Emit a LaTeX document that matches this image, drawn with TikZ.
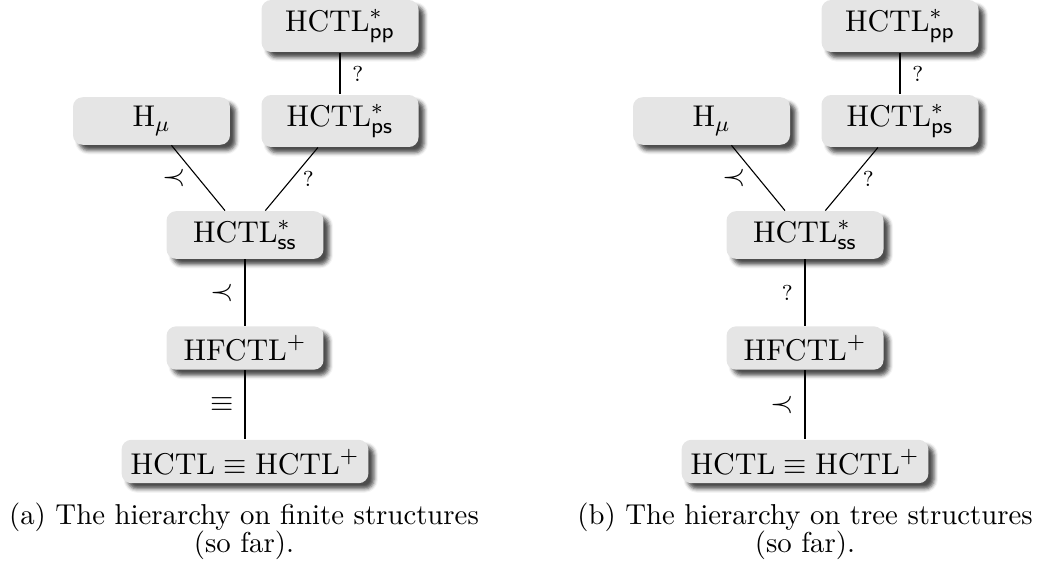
\documentclass[tikz,border=0pt]{standalone}
\usetikzlibrary{shadows.blur}
\begin{document}
\begin{tikzpicture}[x=0.365pt, y=-0.365pt,
  logic/.style={fill=black!10, rounded corners=3.5pt,
    font=\fontsize{11.1pt}{13pt}\selectfont,
    minimum width=57.3pt, minimum height=15.3pt, inner xsep=3.3pt,
    blur shadow={shadow xshift=2.1pt, shadow yshift=-2.1pt,
      shadow opacity=70, shadow blur radius=1.4pt}},
  link/.style={black, line width=0.4pt},
  rel/.style={inner sep=0pt, font=\fontsize{11.1pt}{13pt}\selectfont},
  unk/.style={inner sep=0pt, font=\fontsize{7.9pt}{9pt}\selectfont},
  capt/.style={anchor=base, font=\fontsize{10.5pt}{12pt}\selectfont}]
\useasboundingbox (0,0) rectangle (1047,572);

% (a) finite structures
\begin{scope}
  \node[logic] (app) at (340,26)    {$\mathrm{HCTL}^*_{\mathsf{pp}}$};
  \node[logic] (aps) at (340,121)   {$\mathrm{HCTL}^*_{\mathsf{ps}}$};
  \node[logic] (amu) at (151.5,121) {$\mathrm{H}_\mu$};
  \node[logic] (ass) at (245,235)   {$\mathrm{HCTL}^*_{\mathsf{ss}}$};
  \node[logic] (afc) at (245,348)   {$\mathrm{HFCTL}^+$};
  \node[logic] (acl) at (245,461.5) {$\mathrm{HCTL}\equiv\mathrm{HCTL}^+$};
  \draw[link] (app) -- node[unk, right=4.3pt] {?} (aps);
  \draw[link] (amu) -- node[rel, left=4.5pt] {$\prec$} (ass);
  \draw[link] (aps) -- node[unk, right=3.9pt] {?} (ass);
  \draw[link] (ass) -- node[rel, left=4pt] {$\prec$} (afc);
  \draw[link] (afc) -- node[rel, left=4pt] {$\equiv$} (acl);
  \node[capt] (acap1) at (244,524) {(a) The hierarchy on finite structures};
  \node[capt] (acap2) at (244,552) {(so far).};
\end{scope}

% (b) tree structures
\begin{scope}[xshift=560*0.365pt]
  \node[logic] (bpp) at (340,26)    {$\mathrm{HCTL}^*_{\mathsf{pp}}$};
  \node[logic] (bps) at (340,121)   {$\mathrm{HCTL}^*_{\mathsf{ps}}$};
  \node[logic] (bmu) at (151.5,121) {$\mathrm{H}_\mu$};
  \node[logic] (bss) at (245,235)   {$\mathrm{HCTL}^*_{\mathsf{ss}}$};
  \node[logic] (bfc) at (245,348)   {$\mathrm{HFCTL}^+$};
  \node[logic] (bcl) at (245,461.5) {$\mathrm{HCTL}\equiv\mathrm{HCTL}^+$};
  \draw[link] (bpp) -- node[unk, right=4.3pt] {?} (bps);
  \draw[link] (bmu) -- node[rel, left=4.5pt] {$\prec$} (bss);
  \draw[link] (bps) -- node[unk, right=3.9pt] {?} (bss);
  \draw[link] (bss) -- node[unk, left=4.3pt] {?} (bfc);
  \draw[link] (bfc) -- node[rel, left=4pt] {$\prec$} (bcl);
  \node[capt] (bcap1) at (245,524) {(b) The hierarchy on tree structures};
  \node[capt] (bcap2) at (245,552) {(so far).};
\end{scope}
\end{tikzpicture}
\end{document}
